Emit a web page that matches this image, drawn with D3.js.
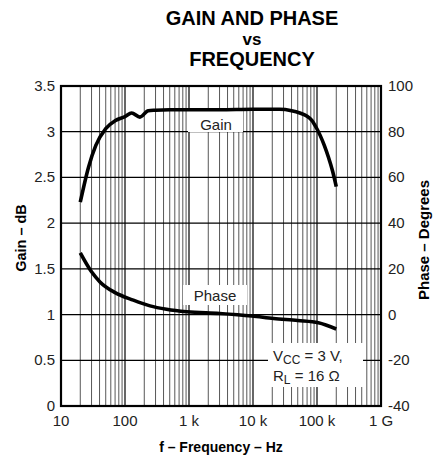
<!DOCTYPE html>
<html><head><meta charset="utf-8">
<script src="https://cdn.jsdelivr.net/npm/d3@7"></script>
<style>body{margin:0;background:#fff}svg{display:block}text{font-family:"Liberation Sans",Arial,sans-serif}</style>
</head><body>
<svg id="c" width="441" height="461"></svg>
<script>
const xTicks = [10, 100, 1e3, 1e4, 1e5, 1e6];
const xTickLabels = ["10", "100", "1 k", "10 k", "100 k", "1 G"];
const gainTicks = [0, 0.5, 1, 1.5, 2, 2.5, 3, 3.5];
const gainTickLabels = ["0", "0.5", "1", "1.5", "2", "2.5", "3", "3.5"];
const phaseTicks = [-40, -20, 0, 20, 40, 60, 80, 100];
const phaseTickLabels = ["-40", "-20", "0", "20", "40", "60", "80", "100"];

const gainFreq = [20, 27, 35, 50, 70, 100, 127, 171, 231, 300, 500, 1000, 3000, 10000, 26000, 40000, 54000, 70000, 83000, 100000, 112000, 130000, 151000, 175000, 200000];
const gainVal  = [2.23, 2.615, 2.85, 3.035, 3.12, 3.165, 3.205, 3.16, 3.23, 3.235, 3.24, 3.24, 3.24, 3.245, 3.245, 3.23, 3.205, 3.17, 3.125, 3.03, 2.96, 2.85, 2.72, 2.57, 2.40];
const phaseFreq = [20, 30, 40.6, 69, 135, 246, 446, 920, 3000, 9600, 21000, 50000, 105000, 200000];
const phaseVal  = [27, 18.7, 14.3, 9.7, 6.3, 3.8, 2.3, 1.2, 0.5, -0.6, -1.7, -2.6, -3.6, -6.3];

const L = 61, R = 381, T = 86, B = 406;
const svg = d3.select("#c");
const x = d3.scaleLog().domain([10, 1e6]).range([L, R]);
const yG = d3.scaleLinear().domain([0, 3.5]).range([B, T]);
const yP = d3.scaleLinear().domain([-40, 100]).range([B, T]);

// Title
const title = svg.append("g").attr("font-weight", "bold").attr("text-anchor", "middle").attr("font-size", 20);
title.append("text").attr("x", 252).attr("y", 25).text("GAIN AND PHASE");
title.append("text").attr("x", 252).attr("y", 45).attr("font-size", 17).text("vs");
title.append("text").attr("x", 252).attr("y", 66).text("FREQUENCY");

// Grid: minor verticals
const minor = [];
for (let d = 10; d < 1e6; d *= 10) for (let k = 2; k <= 9; k++) minor.push(d * k);
svg.append("g").selectAll("line").data(minor).join("line")
  .attr("x1", d => x(d)).attr("x2", d => x(d)).attr("y1", T).attr("y2", B)
  .attr("stroke", "#444").attr("stroke-width", 0.9);
svg.append("g").selectAll("line").data(xTicks).join("line")
  .attr("x1", d => x(d)).attr("x2", d => x(d)).attr("y1", T).attr("y2", B)
  .attr("stroke", "#000").attr("stroke-width", 1.2);
svg.append("g").selectAll("line").data(gainTicks).join("line")
  .attr("x1", L).attr("x2", R).attr("y1", d => yG(d)).attr("y2", d => yG(d))
  .attr("stroke", "#000").attr("stroke-width", 1.2);

// Label boxes (white background)
svg.append("rect").attr("x", 188).attr("y", 111).attr("width", 55).attr("height", 21).attr("fill", "#fff");
svg.append("rect").attr("x", 183).attr("y", 285).attr("width", 64).attr("height", 20).attr("fill", "#fff");
svg.append("rect").attr("x", 268).attr("y", 343).attr("width", 95).attr("height", 44).attr("fill", "#fff");

svg.append("text").attr("x", 216).attr("y", 130).attr("text-anchor", "middle").attr("font-size", 15).attr("fill", "#222").text("Gain");
svg.append("text").attr("x", 215).attr("y", 301).attr("text-anchor", "middle").attr("font-size", 15).attr("fill", "#222").text("Phase");
const a1 = svg.append("text").attr("x", 273).attr("y", 361).attr("font-size", 15).attr("fill", "#222");
a1.append("tspan").text("V");
a1.append("tspan").attr("dy", 3).attr("font-size", 12).text("CC");
a1.append("tspan").attr("dy", -3).text(" = 3 V,");
const a2 = svg.append("text").attr("x", 273).attr("y", 381).attr("font-size", 15).attr("fill", "#222");
a2.append("tspan").text("R");
a2.append("tspan").attr("dy", 3).attr("font-size", 12).text("L");
a2.append("tspan").attr("dy", -3).text(" = 16 Ω");

// Border
svg.append("rect").attr("x", L).attr("y", T).attr("width", R - L).attr("height", B - T)
  .attr("fill", "none").attr("stroke", "#000").attr("stroke-width", 2.2);

// Curves
const lineG = d3.line().x((d, i) => x(gainFreq[i])).y(d => yG(d)).curve(d3.curveMonotoneX);
const lineP = d3.line().x((d, i) => x(phaseFreq[i])).y(d => yP(d)).curve(d3.curveMonotoneX);
svg.append("path").attr("d", lineG(gainVal)).attr("fill", "none").attr("stroke", "#000").attr("stroke-width", 3.6);
svg.append("path").attr("d", lineP(phaseVal)).attr("fill", "none").attr("stroke", "#000").attr("stroke-width", 3.6);

// Tick labels
svg.append("g").selectAll("text").data(xTicks).join("text")
  .attr("x", d => x(d)).attr("y", 426).attr("text-anchor", "middle").attr("font-size", 15).attr("fill", "#222")
  .text((d, i) => xTickLabels[i]);
svg.append("g").selectAll("text").data(gainTicks).join("text")
  .attr("x", 55).attr("y", d => yG(d) + 5).attr("text-anchor", "end").attr("font-size", 15).attr("fill", "#222")
  .text((d, i) => gainTickLabels[i]);
svg.append("g").selectAll("text").data(phaseTicks).join("text")
  .attr("x", 388).attr("y", d => yP(d) + 5).attr("text-anchor", "start").attr("font-size", 15).attr("fill", "#222")
  .text((d, i) => phaseTickLabels[i]);

// Axis titles
svg.append("text").attr("x", 221).attr("y", 452).attr("text-anchor", "middle").attr("font-size", 14).attr("font-weight", "bold").text("f – Frequency – Hz");
svg.append("text").attr("transform", "translate(26,238) rotate(-90)").attr("text-anchor", "middle").attr("font-size", 14.5).attr("font-weight", "bold").text("Gain – dB");
svg.append("text").attr("transform", "translate(429,240) rotate(-90)").attr("text-anchor", "middle").attr("font-size", 15).attr("font-weight", "bold").text("Phase – Degrees");
</script>
</body></html>
